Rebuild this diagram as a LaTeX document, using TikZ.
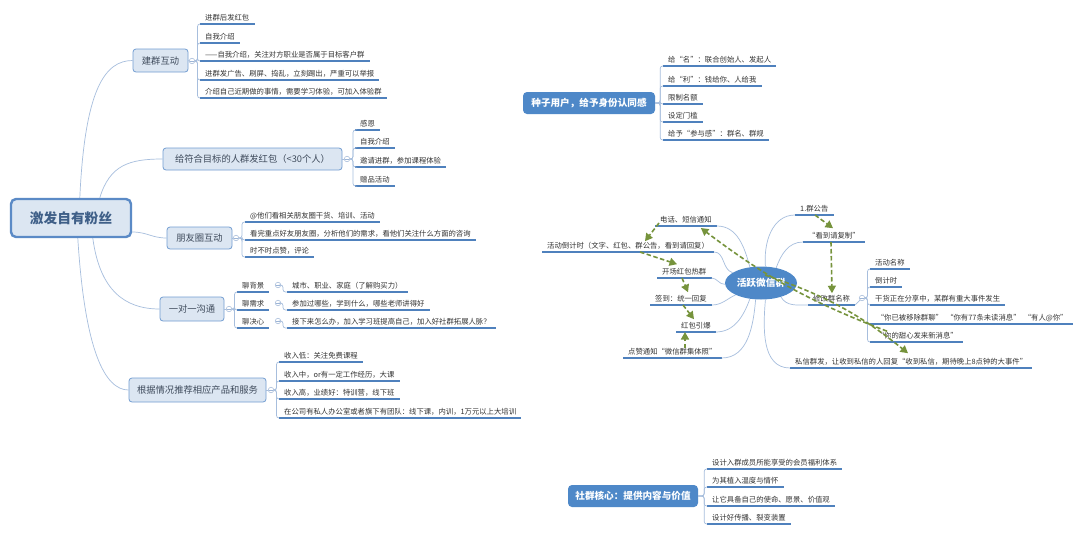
\documentclass[tikz,border=0pt]{standalone}
\usepackage{fontspec}
\setmainfont{Noto Sans CJK SC}
\usetikzlibrary{shapes.geometric,arrows.meta,calc}
\definecolor{ul}{HTML}{4F81BD}
\definecolor{cn}{HTML}{A7BEDD}
\definecolor{tx}{HTML}{333333}
\definecolor{bxf}{HTML}{DCE6F2}
\definecolor{bxd}{HTML}{739DD2}
\definecolor{rootd}{HTML}{5B8AC6}
\definecolor{bl}{HTML}{4E88C8}
\definecolor{fl}{HTML}{76933C}
\definecolor{rtx}{HTML}{3F5F88}
\definecolor{btx}{HTML}{3F4B5C}
\definecolor{ci}{HTML}{9DB5D6}
\begin{document}
\begin{tikzpicture}[x=1pt,y=-1pt,
 uline/.style={draw=ul, line width=1.6pt},
 leaf/.style={anchor=south west, inner xsep=5pt, inner ysep=1.6pt, text height=5.8pt, text depth=1.4pt,
   font=\fontsize{7.35}{8}\selectfont, text=tx,
   append after command={(\tikzlastnode.south west) edge[uline] (\tikzlastnode.south east)}},
 conn/.style={draw=cn, line width=0.7pt},
 br/.style={conn, rounded corners=2.5pt},
 rootbox/.style={draw=rootd, fill=bxf, line width=2.4pt, rounded corners=5pt, text=rtx,
   font=\bfseries\fontsize{13.7}{16}\selectfont, inner sep=0pt, minimum width=120pt, minimum height=38pt},
 topic/.style={draw=bxd, fill=bxf, line width=0.8pt, rounded corners=3pt, text=btx,
   font=\fontsize{9.3}{11}\selectfont, inner sep=0pt, minimum height=22pt},
 filledbox/.style={fill=bl, rounded corners=4pt, text=white, font=\bfseries\fontsize{9.6}{11}\selectfont,
   inner sep=0pt, minimum height=22pt},
 fold/.style={circle, draw=ci, fill=white, line width=0.5pt, minimum size=5.5pt, inner sep=0pt,
   path picture={\draw[ci, line width=0.5pt] ([xshift=-1.6pt]path picture bounding box.center) -- ([xshift=1.6pt]path picture bounding box.center);}},
 flow/.style={draw=fl, line width=1.6pt, dash pattern=on 4.5pt off 2.5pt, -{Triangle[length=7.5pt,width=8pt]}},
]
\fill[white] (0,0) rectangle (1080,533);
\useasboundingbox (0,0) rectangle (1080,533);

% ---------- left tree ----------
\node[rootbox] (root) at (71,218) {激发自有粉丝};

\node[topic, minimum width=55pt, minimum height=23pt] (b1) at (160.5,60.5) {建群互动};
\node[topic, minimum width=179pt] (b2) at (252.5,159) {给符合目标的人群发红包（<30个人）};
\node[topic, minimum width=65pt] (b3) at (199.5,238) {朋友圈互动};
\node[topic, minimum width=64pt, minimum height=24pt] (b4) at (192,309) {一对一沟通};
\node[topic, minimum width=137pt, minimum height=24pt] (b5) at (197.5,390) {根据情况推荐相应产品和服务};

\draw[conn] ([xshift=70pt]root.north west) .. controls +(5,-108) and +(-28,0) .. (b1.west);
\draw[conn] ([xshift=90pt]root.north west) .. controls +(10,-33) and +(-33,0) .. (b2.west);
\draw[conn] ([yshift=-14pt]root.east) .. controls +(15,0) and +(-15,0) .. (b3.west);
\draw[conn] ([xshift=83pt]root.south west) .. controls +(7,52) and +(-35,0) .. (b4.west);
\draw[conn] ([xshift=68pt]root.south west) .. controls +(7,112) and +(-24,0) .. (b5.west);

\node[fold] (f1) at (192,61) {};
\node[fold] (f2) at (347,159) {};
\node[fold] (f3) at (236,238) {};
\node[fold] (f4) at (229,309) {};
\node[fold] (f5) at (271,390) {};
\foreach \a/\b in {b1/f1,b2/f2,b3/f3,b4/f4,b5/f5} \draw[conn] (\a.east) -- (\b.west);

\node[leaf] (l11) at (200,24) {进群后发红包};
\node[leaf] (l12) at (200,43) {自我介绍};
\node[leaf] (l13) at (200,61) {——自我介绍，关注对方职业是否属于目标客户群};
\node[leaf] (l14) at (200,80) {进群发广告、刷屏、捣乱，立刻踢出，严重可以举报};
\node[leaf] (l15) at (200,98) {介绍自己近期做的事情，需要学习体验，可加入体验群};
\foreach \n in {l11,l12,l13,l14,l15} \draw[br] (f1.east) -- ++(2.5,0) |- (\n.south west);

\node[leaf] (l21) at (355,130) {感恩};
\node[leaf] (l22) at (355,148) {自我介绍};
\node[leaf] (l23) at (355,167) {邀请进群，参加课程体验};
\node[leaf] (l24) at (355,186) {赠品活动};
\foreach \n in {l21,l22,l23,l24} \draw[br] (f2.east) -- ++(3,0) |- (\n.south west);

\node[leaf] (l31) at (245,222) {@他们看相关朋友圈干货、培训、活动};
\node[leaf] (l32) at (245,240) {看完重点好友朋友圈，分析他们的需求，看他们关注什么方面的咨询};
\node[leaf] (l33) at (245,257) {时不时点赞，评论};
\foreach \n in {l31,l32,l33} \draw[br] (f3.east) -- ++(3,0) |- (\n.south west);

\node[leaf] (l41) at (237,292) {聊背景};
\node[leaf] (l42) at (237,310) {聊需求};
\node[leaf] (l43) at (237,328) {聊决心};
\foreach \n in {l41,l42,l43} \draw[br] (f4.east) -- ++(2.5,0) |- (\n.south west);
\node[fold] (g41) at (278,285) {};
\node[fold] (g42) at (278,303) {};
\node[fold] (g43) at (278,321) {};
\node[leaf] (m41) at (287,292) {城市、职业、家庭（了解购买力）};
\node[leaf] (m42) at (287,310) {参加过哪些，学到什么，哪些老师讲得好};
\node[leaf] (m43) at (287,328) {接下来怎么办，加入学习班提高自己，加入好社群拓展人脉？};
\foreach \g/\m in {g41/m41,g42/m42,g43/m43} \draw[br] (\g.east) -- ++(2,0) |- (\m.south west);

\node[leaf] (l51) at (279,362) {收入低：关注免费课程};
\node[leaf] (l52) at (279,381) {收入中，or有一定工作经历，大课};
\node[leaf] (l53) at (279,399) {收入高，业绩好：特训营，线下班};
\node[leaf] (l54) at (279,418) {在公司有私人办公室或者旗下有团队：线下课，内训，1万元以上大培训};
\foreach \n in {l51,l52,l53,l54} \draw[br] (f5.east) -- ++(2.5,0) |- (\n.south west);

% ---------- seed users ----------
\node[filledbox, minimum width=132pt] (s1) at (589,103) {种子用户，给予身份认同感};
\node[leaf] (l61) at (663,66) {给“名”：联合创始人、发起人};
\node[leaf] (l62) at (663,86) {给“利”：钱给你、人给我};
\node[leaf] (l63) at (663,104) {限制名额};
\node[leaf] (l64) at (663,122) {设定门槛};
\node[leaf] (l65) at (663,140) {给予“参与感”：群名、群规};
\foreach \n in {l61,l62,l63,l64,l65} \draw[br] (s1.east) -- ++(5,0) |- (\n.south west);

% ---------- community core ----------
\node[filledbox, minimum width=130pt] (s2) at (633,496) {社群核心：提供内容与价值};
\node[leaf] (l71) at (707,469) {设计入群成员所能享受的会员福利体系};
\node[leaf] (l72) at (707,487) {为其植入温度与情怀};
\node[leaf] (l73) at (707,506) {让它具备自己的使命、愿景、价值观};
\node[leaf] (l74) at (707,524) {设计好传播、裂变装置};
\foreach \n in {l71,l72,l73,l74} \draw[br] (s2.east) -- ++(6,0) |- (\n.south west);

% ---------- active group hub ----------
\node[ellipse, fill=bl, text=white, font=\bfseries\fontsize{9.7}{11}\selectfont,
      minimum width=72pt, minimum height=33pt, inner sep=0pt] (hub) at (761,283) {活跃微信群};

\node[leaf] (h1) at (655,226) {电话、短信通知};
\node[leaf] (h2) at (542,252) {活动倒计时（文字、红包、群公告，看到请回复）};
\node[leaf] (h3) at (657,278) {开场红包热群};
\node[leaf] (h4) at (650,305) {签到：统一回复};
\node[leaf] (h5) at (676,332) {红包引爆};
\node[leaf] (h6) at (623,358) {点赞通知“微信群集体照”};
\draw[conn] (h1.south east) to[out=0,in=105] (hub.125);
\draw[conn] (h2.south east) to[out=0,in=165] (hub.160);
\draw[conn] (h3.south east) to[out=0,in=185] (hub.182);
\draw[conn] (h4.south east) to[out=0,in=205] (hub.205);
\draw[conn] (h5.south east) to[out=0,in=250] (hub.235);
\draw[conn] (h6.south east) to[out=0,in=265] (hub.252);

\node[leaf] (r1) at (795,215) {1.群公告};
\node[leaf] (r2) at (803,242) {“看到请复制”};
\node[leaf] (r3) at (808,305) {修改群名称};
\node[leaf] (r4) at (790,368) {私信群发，让收到私信的人回复“收到私信，期待晚上8点钟的大事件”};
\draw[conn] (hub.75) to[out=95,in=180] (r1.south west);
\draw[conn] (hub.45) to[out=70,in=180] (r2.south west);
\draw[conn] (hub.-35) to[out=-60,in=180] (r3.south west);
\draw[conn] (hub.-75) to[out=-95,in=180] (r4.south west);

\node[fold] (g3) at (862,298) {};
\draw[conn] (r3.south east) -- (g3.south west);
\node[leaf] (r31) at (870,269) {活动名称};
\node[leaf] (r32) at (870,287) {倒计时};
\node[leaf] (r33) at (870,305) {干货正在分享中，某群有重大事件发生};
\node[leaf] (r34) at (870,324) {\ “你已被移除群聊”\ \ “你有77条未读消息”\ \ “有人@你”};
\node[leaf] (r35) at (870,342) {\ “你的甜心发来新消息”};
\foreach \n in {r31,r32,r33,r34,r35} \draw[br] (g3.east) -- ++(2.5,0) |- (\n.south west);

% ---------- dashed flow arrows ----------
\draw[flow] ([xshift=4pt,yshift=3pt]h1.south west) -- ([xshift=103pt]h2.north west);
\draw[flow] ([xshift=98pt]h2.south west) -- ([xshift=20pt,yshift=3pt]h3.north west);
\draw[flow] ([xshift=25pt]h3.south west) -- ([xshift=38pt,yshift=2pt]h4.north west);
\draw[flow] ([xshift=33pt]h4.south west) -- ([xshift=18pt,yshift=2pt]h5.north west);
\draw[flow] ([xshift=62pt,yshift=-1pt]h6.north west) -- ([xshift=9pt]h5.south west);
\draw[flow] ([xshift=20pt]r1.south west) -- ([xshift=30pt,yshift=3pt]r2.north west);
\draw[flow] ([xshift=28pt]r2.south west) -- ([xshift=24pt,yshift=1pt]r3.north west);
\draw[flow] ([xshift=4pt,yshift=8pt]hub.center) to[bend left=10] ([xshift=118pt,yshift=4pt]r4.north west);
\draw[flow] ([xshift=17pt]r35.north west) to[bend left=8] ([xshift=-16pt,yshift=-2pt]h1.south east);
\end{tikzpicture}
\end{document}
